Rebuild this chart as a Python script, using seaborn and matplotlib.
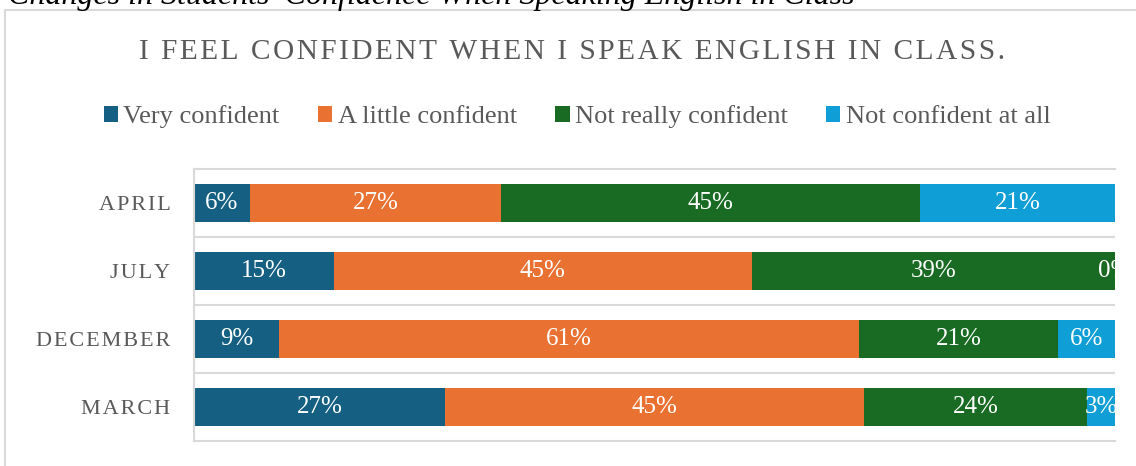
import matplotlib
matplotlib.use("Agg")
import matplotlib.pyplot as plt
from matplotlib.patches import Patch, Rectangle
import seaborn as sns
import numpy as np
import pandas as pd

# ---- data ----
months = ["APRIL", "JULY", "DECEMBER", "MARCH"]
series_names = ["Very confident", "A little confident", "Not really confident", "Not confident at all"]
very_confident = [6, 15, 9, 27]
a_little_confident = [27, 45, 61, 45]
not_really_confident = [45, 39, 21, 24]
not_confident_at_all = [21, 0, 6, 3]
colors = ["#156082", "#E97132", "#196B24", "#0F9ED5"]

title = "I FEEL CONFIDENT WHEN I SPEAK ENGLISH IN CLASS."
caption = "Changes in Students\u2019 Confidence When Speaking English in Class"

sns.set_theme(style="white")
plt.rcParams["font.family"] = ["Liberation Serif", "DejaVu Serif"]

W, H = 1136, 466
fig = plt.figure(figsize=(W / 100, H / 100), dpi=100)
fig.patch.set_facecolor("white")

# chart border (cropped on the right/bottom in the reference)
fig.patches.append(Rectangle((5 / W, -0.2), 1.3, 1 - 10 / H + 0.2, transform=fig.transFigure,
                             fill=False, edgecolor="#D9D9D9", linewidth=1.5))

ax = fig.add_axes([194 / W, 1 - 441 / H, (1115 - 194) / W, (441 - 169) / H])

vals = np.array([very_confident, a_little_confident, not_really_confident, not_confident_at_all], dtype=float)
# 100% stacked: normalise each month to its total
shares = vals / vals.sum(axis=0) * 100
cum = np.cumsum(shares, axis=0)

for i in range(len(series_names) - 1, -1, -1):
    df = pd.DataFrame({"month": months, "value": cum[i]})
    sns.barplot(data=df, x="value", y="month", order=months, orient="h", color=colors[i],
                saturation=1, width=0.56, errorbar=None, ax=ax, linewidth=0)

# data labels
for i in range(len(series_names)):
    for j in range(len(months)):
        left = cum[i, j] - shares[i, j]
        ax.text(left + shares[i, j] / 2, j, f"{int(vals[i, j])}%", ha="center", va="center",
                color="white", fontsize=18, clip_on=True)

ax.set_xlim(0, 100)
ax.set_ylim(3.5, -0.5)
ax.set_xlabel("")
ax.set_ylabel("")
ax.set_xticks([])
ax.set_yticks(range(len(months)))
hs = "\u200a"
ax.set_yticklabels([hs.join(m) for m in months], color="#595959", fontsize=16)
ax.tick_params(axis="y", length=0, pad=17)
ax.set_yticks([0.5, 1.5, 2.5], minor=True)
ax.tick_params(axis="y", which="minor", length=0)
ax.grid(axis="y", which="minor", color="#D9D9D9", linewidth=1.5)
for s in ["left", "bottom", "top"]:
    ax.spines[s].set_visible(True)
    ax.spines[s].set_color("#D9D9D9")
    ax.spines[s].set_linewidth(1.5)
ax.spines["right"].set_visible(False)

# title
fig.text(572 / W, 1 - 52 / H, hs.join(title), ha="center", va="center", color="#595959", fontsize=21.2)

# caption (cut off at the top)
fig.text(8 / W, 1 - 4 / H, caption, ha="left", va="baseline", color="black",
         fontsize=23, style="italic")

# legend
handles = [Patch(facecolor=c, edgecolor="none") for c in colors]
fig.legend(handles, series_names, loc="center", bbox_to_anchor=(577 / W, 1 - 117 / H), ncol=4,
           frameon=False, fontsize=19, handlelength=0.55, handleheight=0.55, handletextpad=0.2,
           columnspacing=1.45, labelcolor="#595959")

fig.savefig("out.png", dpi=100, facecolor="white")
